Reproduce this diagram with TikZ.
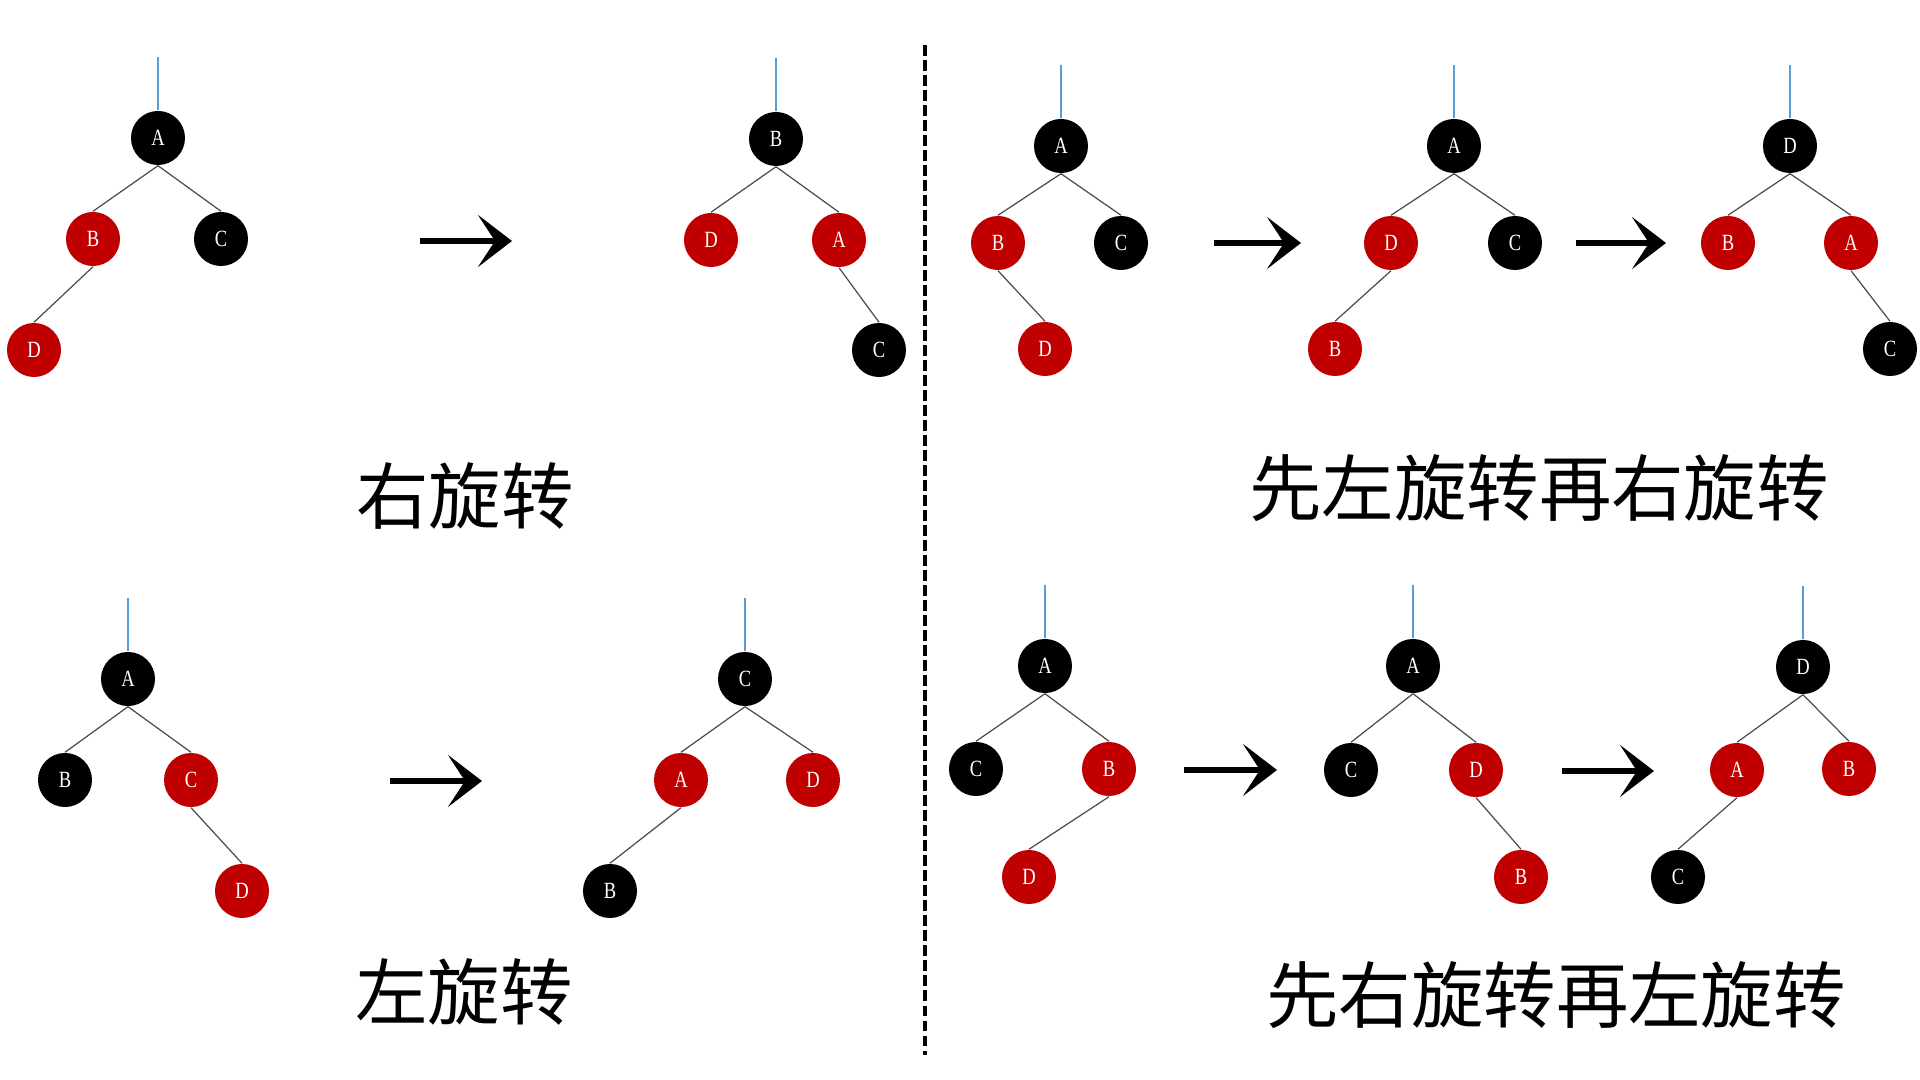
\documentclass[tikz,border=0pt]{standalone}
\usepackage{fontspec}
\usepackage{xcolor}
\usepackage{tikz}
\usetikzlibrary{arrows.meta}
\newfontfamily\cjk{Noto Sans CJK SC}
\newfontfamily\keyfont[FakeStretch=0.8]{Liberation Serif}
\definecolor{rbred}{HTML}{C00000}
\definecolor{stemblue}{HTML}{5B9BD5}

\begin{document}
\begin{tikzpicture}[x=0.01cm, y=-0.01cm,
    nd/.style={circle, minimum size=0.54cm, inner sep=0pt, text=white, font=\keyfont\fontsize{6.6}{7}\selectfont},
    edge/.style={draw=black!70, line width=0.35pt},
    stem/.style={draw=stemblue, line width=0.4pt},
    turn/.style={line width=1.5pt, -{Stealth[length=3.4mm, width=5.2mm, inset=1.7mm]}},
    caption/.style={font=\cjk\fontsize{20.6}{24}\selectfont}]
  \useasboundingbox (0,0) rectangle (1920,1080);

  % tree nodes: name/x/y/fill/key
  \foreach \nm/\x/\y/\c/\t in {
      rA1/158/138/black/A, rB1/93/239/rbred/B, rC1/221/239/black/C, rD1/34/350/rbred/D,
      rB2/776/139/black/B, rD2/711/240/rbred/D, rA2/839/240/rbred/A, rC2/879/350/black/C,
      lA1/128/679/black/A, lB1/65/780/black/B, lC1/191/780/rbred/C, lD1/242/891/rbred/D,
      lC2/745/679/black/C, lA2/681/780/rbred/A, lD2/813/780/rbred/D, lB2/610/891/black/B,
      mA1/1061/146/black/A, mB1/998/243/rbred/B, mC1/1121/243/black/C, mD1/1045/349/rbred/D,
      mA2/1454/146/black/A, mD2/1391/243/rbred/D, mC2/1515/243/black/C, mB2/1335/349/rbred/B,
      mD3/1790/146/black/D, mB3/1728/243/rbred/B, mA3/1851/243/rbred/A, mC3/1890/349/black/C,
      nA1/1045/666/black/A, nC1/976/769/black/C, nB1/1109/769/rbred/B, nD1/1029/877/rbred/D,
      nA2/1413/666/black/A, nC2/1351/770/black/C, nD2/1476/770/rbred/D, nB2/1521/877/rbred/B,
      nD3/1803/667/black/D, nA3/1737/770/rbred/A, nB3/1849/769/rbred/B, nC3/1678/877/black/C}
    \node[nd, fill=\c] (\nm) at (\x,\y) {\t};

  % parent -- child
  \foreach \a/\b in {rA1/rB1, rA1/rC1, rB1/rD1, rB2/rD2, rB2/rA2, rA2/rC2,
      lA1/lB1, lA1/lC1, lC1/lD1, lC2/lA2, lC2/lD2, lA2/lB2,
      mA1/mB1, mA1/mC1, mB1/mD1, mA2/mD2, mA2/mC2, mD2/mB2, mD3/mB3, mD3/mA3, mA3/mC3,
      nA1/nC1, nA1/nB1, nB1/nD1, nA2/nC2, nA2/nD2, nD2/nB2, nD3/nA3, nD3/nB3, nA3/nC3}
    \draw[edge] (\a.south) -- (\b.north);

  % link to the rest of the tree
  \foreach \r in {rA1, rB2, lA1, lC2, mA1, mA2, mD3, nA1, nA2, nD3}
    \draw[stem] (\r.north) -- ++(0,-53);

  % rotation arrows
  \foreach \i/\x/\y/\len in {1/420/241/92, 2/390/781/92, 3/1214/243/87, 4/1576/243/90, 5/1184/770/93, 6/1562/771/92} {
    \coordinate (arr\i) at (\x,\y);
    \draw[turn] (arr\i) -- ++(\len,0);
  }

  \draw[line width=1.1pt, dash pattern=on 0.107cm off 0.043cm] (925,45) -- (925,1055);

  \node[caption] (capR) at (465,496) {右旋转};
  \node[caption] (capL) at (464,992) {左旋转};
  \node[caption] (capLR) at (1539,488) {先左旋转再右旋转};
  \node[caption] (capRL) at (1556,995) {先右旋转再左旋转};
\end{tikzpicture}
\end{document}
